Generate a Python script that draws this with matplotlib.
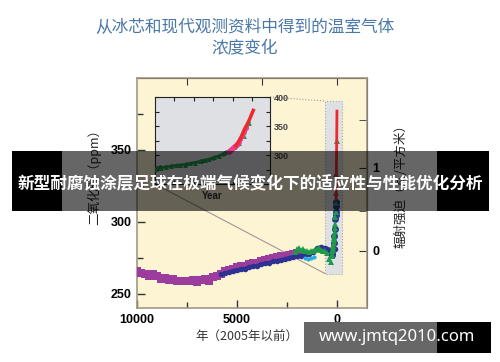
import matplotlib
matplotlib.use("Agg")
import matplotlib.pyplot as plt
import numpy as np
from matplotlib.patches import Rectangle

# Ice-core CO2 (years before 2005, ppm)
purple_year = [10000, 9800, 9600, 9400, 9200, 9000, 8800, 8600, 8400, 8200, 8000, 7800,
               7600, 7400, 7200, 7000, 6800, 6600, 6400, 6200, 6000, 5800, 5600, 5400,
               5200, 5000, 4800, 4600, 4400, 4200, 4000, 3800, 3600, 3400, 3200, 3000,
               2800, 2600, 2400, 2200, 2000, 1800]
purple_ppm = [265.5, 264.5, 264, 262.5, 263.5, 262, 260.5, 261, 259.5, 260, 259, 258.5,
              259, 258.5, 259.5, 258, 259.5, 260, 259, 261.5, 262.5, 264, 265.5, 266.5,
              267.5, 268.5, 269, 269.5, 270.5, 271, 271.5, 272.5, 273.5, 274, 274.5, 275.5,
              276, 276.5, 277, 277.5, 278, 278.5]

blue_year = [5800, 5600, 5400, 5200, 5000, 4800, 4600, 4400, 4200, 4000, 3800, 3600,
             3400, 3200, 3000, 2800, 2600, 2400, 2200, 2000, 1800, 1600, 1400, 1200,
             1000, 900, 800, 700, 600, 500, 400, 300, 200, 100]
blue_ppm = [263.5, 264.5, 265, 266, 266.5, 267, 267.5, 268.5, 269, 269.5, 270.5, 271,
            271.5, 272.5, 273, 273.5, 274, 275, 275.5, 276, 276.5, 277, 277.5, 279,
            281.5, 282, 282.5, 282, 281.5, 281, 280.5, 280, 280.5, 281]

green_year = [2100, 2000, 1900, 1800, 1700, 1600, 1500, 1400, 1300, 1200, 1100, 1000,
              900, 800, 700, 600, 500, 400, 300, 250]
green_ppm = [279, 281, 282, 280.5, 281, 280, 279.5, 279, 279.5, 280, 280.5, 281,
             281.5, 280.5, 280, 279.5, 278, 274, 272, 276]

cyan_year = [1600, 1450, 1300, 1150]
cyan_ppm = [275, 274, 274.5, 275.5]

# Modern record (calendar year AD, ppm) -- inset, and the spike at year 0
ins_navy_year = [1755, 1762, 1790, 1830, 1870, 1900, 1925, 1932, 1940, 1948, 1955]
ins_navy_ppm = [277, 278.5, 281, 285, 290, 295, 302, 305, 307, 311, 314]

ins_green_year = [1752, 1765, 1778, 1790, 1803, 1815, 1828, 1840, 1853, 1865, 1878, 1890,
                  1903, 1915, 1928, 1940, 1953, 1965, 1978, 1992]
ins_green_ppm = [276.5, 277.5, 280, 280.5, 282, 283, 283.5, 285.5, 287, 289, 291, 293,
                 296, 298.5, 303, 307, 313, 320, 333, 356]

ins_pink_year = [1940, 1945, 1950, 1955, 1960, 1965, 1970, 1975, 1980, 1985]
ins_pink_ppm = [306, 309, 312, 315, 318, 322, 327, 333, 340, 347]

ins_red_year = [1958, 1963, 1968, 1973, 1978, 1983, 1988, 1993, 1998, 2003]
ins_red_ppm = [316, 320, 326, 333, 341, 348, 354, 361, 369, 377]

CJK = ["Noto Sans CJK SC", "DejaVu Sans"]
NUM = "Liberation Sans"
PURPLE, NAVY, GREEN = "#9c3c9c", "#2e3192", "#1f9a4a"
CYAN, PINK, RED = "#2aaae0", "#ec3b8e", "#ec2a2e"
CREAM, PANEL = "#fdf4d4", "#dfe0e3"

fig = plt.figure(figsize=(5, 3.62), dpi=100, facecolor="white")

fig.text(0.49, 0.926, "从冰芯和现代观测资料中得到的温室气体", ha="center", va="center",
         fontsize=12, color="#4a78a8", family=CJK)
fig.text(0.49, 0.864, "浓度变化", ha="center", va="center",
         fontsize=12, color="#4a78a8", family=CJK)

# ---- main panel ----
ax = fig.add_axes([0.274, 0.149, 0.46, 0.6355])
ax.set_facecolor(CREAM)
ax.set_xlim(10000, -1500)
ax.set_ylim(240, 400)
for sp in ax.spines.values():
    sp.set_color("#a09a88"); sp.set_linewidth(1.2)

ax.add_patch(Rectangle((-250, 264), 850, 120, facecolor=PANEL, edgecolor="#a8a8a8",
                       lw=0.8, ls=":", zorder=1))

ax.plot(purple_year, purple_ppm, "-s", color=PURPLE, lw=4, ms=6, mew=0, zorder=3)
ax.plot(blue_year, blue_ppm, "-o", color=NAVY, lw=2.5, ms=4, mew=0, zorder=4)
ax.plot(cyan_year, cyan_ppm, "o", color=CYAN, ms=3, mew=0, zorder=4)
ax.plot(green_year, green_ppm, "^", color=GREEN, ms=5, mew=0, zorder=5)

bp = lambda yrs: [2005 - y for y in yrs]
ax.plot(bp(ins_navy_year), ins_navy_ppm, "o", color=NAVY, ms=5, mew=0, zorder=5)
ax.plot(bp(ins_green_year), ins_green_ppm, "^", color=GREEN, ms=5, mew=0, zorder=5)
ax.plot(bp(ins_red_year), ins_red_ppm, "-", color=RED, lw=2, zorder=6)

ax.set_xticks([10000, 5000, 0])
ax.set_xticks([7500, 2500], minor=True)
ax.set_yticks([250, 300, 350])
ax.set_yticks([275, 325, 375], minor=True)
ax.tick_params(which="both", direction="in", length=6, width=1, color="#333",
               labelsize=9, pad=4)
ax.tick_params(which="minor", length=4)
for lbl in ax.get_xticklabels() + ax.get_yticklabels():
    lbl.set_fontfamily(NUM); lbl.set_fontweight("bold")

top = ax.secondary_xaxis("top")
top.set_xticks([7500, 3750, 0])
top.set_xticklabels([])
top.tick_params(direction="in", length=5, color="#333")

C0 = 280.0
rf = ax.secondary_yaxis("right", functions=(lambda c: 5.35 * np.log(np.clip(c, 1, None) / C0),
                                            lambda f: C0 * np.exp(f / 5.35)))
rf.set_yticks([0, 1])
rf.set_yticks([0.5, 1.5], minor=True)
rf.tick_params(which="both", direction="in", length=6, color="#333", labelsize=9, pad=4)
rf.tick_params(which="minor", length=6)
for lbl in rf.get_yticklabels():
    lbl.set_fontfamily(NUM); lbl.set_fontweight("bold")

fig.text(0.188, 0.52, "二氧化碳（ppm）", rotation=90, ha="center", va="center",
         fontsize=9, color="#222", family=CJK)
fig.text(0.802, 0.495, "辐射强迫（瓦/平方米）", rotation=90, ha="center", va="center",
         fontsize=9, color="#222", family=CJK)
fig.text(0.494, 0.069, "年（2005年以前）", ha="center", va="center",
         fontsize=9, color="#333", family=CJK)

# ---- inset: the industrial era ----
ins = fig.add_axes([0.31, 0.4917, 0.23, 0.2403])
ins.set_facecolor(PANEL)
ins.set_xlim(1750, 2046)
ins.set_ylim(250, 400)
for sp in ins.spines.values():
    sp.set_color("#222"); sp.set_linewidth(0.8)
ins.plot(ins_navy_year, ins_navy_ppm, "o", color=NAVY, ms=3, mew=0, zorder=2)
ins.plot(ins_green_year, ins_green_ppm, "-^", color=GREEN, lw=2, ms=3.5, mew=0, zorder=3)
ins.plot(ins_pink_year, ins_pink_ppm, "-o", color=PINK, lw=3, ms=3.5, mew=0, zorder=4)
ins.plot(ins_red_year, ins_red_ppm, "-", color=RED, lw=2.5, zorder=5)
ins.set_xticks([1800, 1850, 1900, 1950, 2000])
ins.set_xticklabels([])
ins.set_yticks([300, 350, 400])
ins.set_yticks([250, 275, 325, 375], minor=True)
ins.yaxis.tick_right()
ins.tick_params(which="both", direction="in", length=3, width=0.8, color="#222",
                top=True, left=True, right=True, labelsize=6.5, pad=3)
for lbl in ins.get_yticklabels():
    lbl.set_fontfamily(NUM); lbl.set_fontweight("bold"); lbl.set_color("#444")
ins.set_xlabel("Year", fontsize=7, fontweight="bold", family=NUM, color="#333", labelpad=2)

# connectors from the inset to the shaded strip near year 0
fig.canvas.draw()
to_data = ax.transData.inverted()
bl = to_data.transform(ins.transAxes.transform((0, 0)))
tr = to_data.transform(ins.transAxes.transform((1, 1)))
ax.plot([bl[0], 600], [bl[1], 264], color="#9a9a9a", lw=0.8, zorder=2)
ax.plot([tr[0], 600], [tr[1], 384], color="#9a9a9a", lw=0.8, ls=":", zorder=2, clip_on=False)

# ---- overlaid banner and watermark ----
fig.add_artist(Rectangle((0.024, 0.417), 0.10, 0.166, transform=fig.transFigure,
                         facecolor="black", lw=0, zorder=10))
fig.add_artist(Rectangle((0.874, 0.417), 0.104, 0.166, transform=fig.transFigure,
                         facecolor="black", lw=0, zorder=10))
fig.add_artist(Rectangle((0.124, 0.417), 0.75, 0.166, transform=fig.transFigure,
                         facecolor="black", alpha=0.6, lw=0, zorder=10))
fig.text(0.5, 0.492, "新型耐腐蚀涂层足球在极端气候变化下的适应性与性能优化分析",
         ha="center", va="center", fontsize=12, fontweight="bold", color="white",
         family=CJK, zorder=11)

fig.add_artist(Rectangle((0.608, 0.025), 0.266, 0.086, transform=fig.transFigure,
                         facecolor="#676767", lw=0, zorder=10))
fig.add_artist(Rectangle((0.874, 0.025), 0.108, 0.086, transform=fig.transFigure,
                         facecolor="black", lw=0, zorder=10))
fig.text(0.794, 0.069, "www.jmtq2010.com", ha="center", va="center", fontsize=12,
         fontweight="bold", color="white", family=["Noto Sans", "DejaVu Sans"], zorder=11)

fig.savefig("out.png", dpi=100, facecolor="white")
